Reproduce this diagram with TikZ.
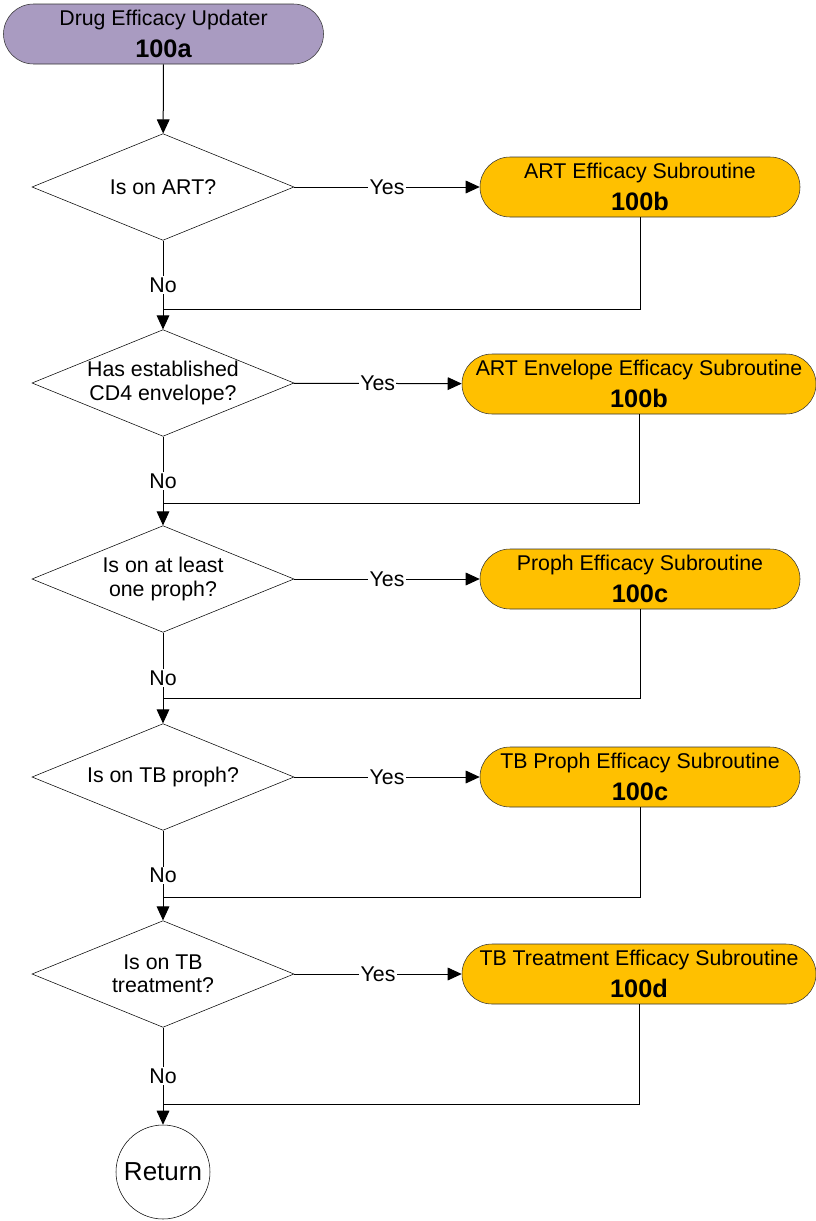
\documentclass[tikz,border=0pt]{standalone}
\usepackage{fontspec}
\setmainfont{Liberation Sans}
\usepackage{xcolor}
\usetikzlibrary{shapes.geometric,arrows.meta}

\definecolor{startpurple}{RGB}{169,155,193}
\definecolor{subgold}{RGB}{255,192,0}

\begin{document}
\begin{tikzpicture}[x=0.75pt,y=0.75pt,yscale=-1,xscale=1,
  txt/.style={font=\fontsize{16}{17.5}\selectfont},
  startbox/.style={rectangle,rounded corners=22.5pt,draw=black!80,fill=startpurple,minimum width=240pt,minimum height=45pt,inner sep=0pt,align=center,txt},
  subbox/.style={rectangle,rounded corners=22.5pt,draw=black!80,fill=subgold,minimum width=240pt,minimum height=45pt,inner sep=0pt,align=center,txt},
  widebox/.style={subbox,minimum width=265.5pt},
  decision/.style={diamond,draw,aspect=2.5,minimum width=196.5pt,minimum height=80pt,inner sep=0pt,align=center,txt},
  returnnode/.style={circle,draw,minimum size=70.5pt,inner sep=0pt,font=\fontsize{19.5}{22}\selectfont},
  flow/.style={draw,line width=0.75pt,-{Triangle[length=10.5pt,width=9.5pt]}},
  back/.style={draw,line width=0.75pt},
  lbl/.style={fill=white,inner sep=1pt,txt}]

\useasboundingbox (0,0) rectangle (816,1221);

% nodes

\node [startbox] (start) at (163.5,34) {Drug Efficacy Updater\\[6.5pt]{\fontsize{19}{20}\selectfont\bfseries 100a}};

\node [decision] (art) at (163,187) {Is on ART?};

\node [subbox] (artsub) at (640,187) {ART Efficacy Subroutine\\[6.5pt]{\fontsize{19}{20}\selectfont\bfseries 100b}};

\node [decision] (env) at (163,383) {Has established\\CD4 envelope?};

\node [widebox] (envsub) at (639,384) {ART Envelope Efficacy Subroutine\\[6.5pt]{\fontsize{19}{20}\selectfont\bfseries 100b}};

\node [decision] (proph) at (163,579) {Is on at least\\one proph?};

\node [subbox] (prophsub) at (640,579) {Proph Efficacy Subroutine\\[6.5pt]{\fontsize{19}{20}\selectfont\bfseries 100c}};

\node [decision] (tbproph) at (163,777) {Is on TB proph?};

\node [subbox] (tbprophsub) at (640,777) {TB Proph Efficacy Subroutine\\[6.5pt]{\fontsize{19}{20}\selectfont\bfseries 100c}};

\node [decision] (tbtreat) at (163,974) {Is on TB\\treatment?};

\node [widebox] (tbtreatsub) at (639,974) {TB Treatment Efficacy Subroutine\\[6.5pt]{\fontsize{19}{20}\selectfont\bfseries 100d}};

\node [returnnode] (ret) at (163,1172) {Return};

% merge points

\coordinate (m1) at (163,309);

\coordinate (m2) at (163,503);

\coordinate (m3) at (163,698);

\coordinate (m4) at (163,897);

\coordinate (m5) at (163,1104);

% connectors

\draw [flow] (start) -- (art);

\draw [flow] (art) -- node [lbl] {Yes} (artsub);

\draw [flow] (env) -- node [lbl] {Yes} (envsub);

\draw [flow] (proph) -- node [lbl] {Yes} (prophsub);

\draw [flow] (tbproph) -- node [lbl] {Yes} (tbprophsub);

\draw [flow] (tbtreat) -- node [lbl] {Yes} (tbtreatsub);

\draw [back] (artsub.south) |- (m1);

\draw [back] (envsub.south) |- (m2);

\draw [back] (prophsub.south) |- (m3);

\draw [back] (tbprophsub.south) |- (m4);

\draw [back] (tbtreatsub.south) |- (m5);

\draw [flow] (art) -- node [lbl] {No} (env);

\draw [flow] (env) -- node [lbl] {No} (proph);

\draw [flow] (proph) -- node [lbl] {No} (tbproph);

\draw [flow] (tbproph) -- node [lbl] {No} (tbtreat);

\draw [flow] (tbtreat) -- node [lbl] {No} (ret);

\end{tikzpicture}
\end{document}
